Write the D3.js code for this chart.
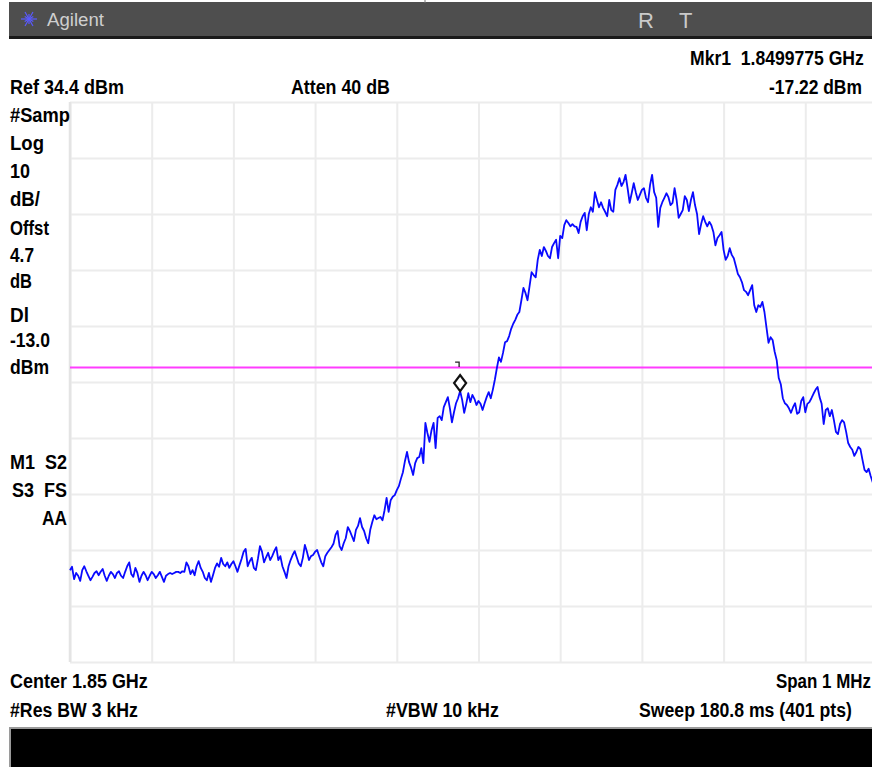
<!DOCTYPE html>
<html>
<head>
<meta charset="utf-8">
<script src="https://cdn.jsdelivr.net/npm/d3@7/dist/d3.min.js"></script>
<style>
  html, body { margin: 0; padding: 0; background: #ffffff; overflow: hidden; }
  svg { display: block; }
  .lbl { font-family: "Liberation Sans Narrow", "Arial Narrow", "Liberation Sans", Arial, sans-serif; font-weight: bold; fill: #000; white-space: pre; }
</style>
</head>
<body>
<svg id="chart" width="872" height="767"></svg>
<script>
// ---------------- data ----------------
const centerGHz = 1.85;
const spanMHz = 1;
const refLevel = 34.4;         // dBm, top of graticule
const dbPerDiv = 10;
const numDivX = 10;
const numDivY = 10;
const sweepPoints = 401;
const displayLine = -13.0;     // dBm
const markerFreqGHz = 1.8499775;
const markerLevel = -17.22;    // dBm

// trace amplitude, dBm (401 sweep points)
const traceDbm = [
  -49.2,-48.6,-50.8,-49.7,-50.2,-51.1,-49.2,-48.5,-49.4,-50.2,
  -51.0,-50.4,-49.7,-49.4,-50.1,-49.5,-49.0,-50.2,-51.1,-50.2,
  -49.5,-49.9,-50.6,-49.7,-49.4,-50.2,-50.6,-49.5,-48.5,-47.8,
  -49.9,-50.4,-48.8,-49.7,-51.3,-50.2,-49.5,-50.1,-51.0,-50.2,
  -49.5,-49.9,-50.6,-50.1,-49.5,-50.4,-51.3,-50.2,-49.9,-49.7,
  -49.9,-49.7,-49.5,-49.5,-49.7,-49.4,-49.5,-47.8,-48.5,-49.9,
  -49.2,-50.1,-48.5,-47.6,-48.8,-49.5,-50.6,-51.0,-49.7,-51.3,
  -50.1,-48.8,-48.0,-48.6,-47.0,-48.1,-48.5,-47.8,-48.8,-48.1,
  -47.6,-48.5,-49.5,-48.3,-47.2,-45.9,-45.4,-48.5,-47.6,-47.0,
  -48.8,-49.2,-47.2,-44.9,-45.9,-47.8,-46.9,-46.1,-47.4,-46.7,
  -45.8,-45.1,-47.4,-46.7,-48.5,-49.5,-50.6,-48.5,-47.4,-46.5,
  -45.8,-46.9,-48.0,-48.5,-47.0,-44.7,-45.9,-47.4,-46.7,-46.5,
  -45.9,-45.6,-46.7,-47.8,-48.5,-46.7,-46.1,-45.6,-45.1,-44.5,
  -42.9,-42.2,-44.9,-45.6,-44.4,-43.5,-41.5,-42.2,-43.1,-44.0,
  -42.0,-41.3,-39.9,-41.5,-42.2,-43.5,-44.4,-42.0,-40.6,-39.4,
  -40.1,-39.9,-39.7,-40.3,-38.5,-36.3,-38.8,-36.7,-36.1,-35.8,
  -34.9,-34.2,-32.9,-31.7,-29.7,-28.1,-29.9,-30.9,-32.2,-30.1,
  -29.2,-29.0,-27.4,-30.1,-22.9,-24.7,-26.3,-24.2,-22.9,-27.4,
  -22.0,-21.7,-22.4,-20.1,-19.2,-18.3,-20.3,-22.8,-21.0,-19.4,
  -18.5,-17.22,-18.8,-21.1,-19.5,-17.6,-19.2,-17.9,-18.6,-19.7,
  -19.0,-19.5,-20.6,-19.4,-18.3,-17.4,-18.5,-17.0,-15.2,-13.1,
  -11.2,-12.0,-10.4,-8.5,-8.3,-7.4,-6.1,-5.2,-4.5,-3.6,
  -3.1,-1.0,1.2,0.3,-1.0,1.5,4.0,3.5,3.1,6.2,
  8.0,6.9,8.5,7.8,6.9,6.5,8.5,9.2,9.8,6.5,
  10.5,10.1,12.4,13.3,12.8,12.2,12.6,12.2,12.1,11.0,
  13.0,14.0,14.6,11.5,14.4,15.6,14.8,18.3,16.9,15.6,
  16.5,15.5,14.8,14.0,16.9,15.1,14.8,18.7,19.6,20.8,
  19.4,20.1,21.4,19.0,16.4,18.1,19.9,18.3,16.9,17.8,
  18.7,19.0,17.3,16.5,19.6,21.4,18.3,17.3,12.1,15.5,
  16.5,17.3,18.1,17.4,16.0,16.4,19.0,16.9,13.7,14.4,
  15.1,17.6,16.9,14.9,16.9,18.3,16.0,14.4,10.8,12.6,
  14.0,13.0,12.2,13.0,12.4,11.2,8.8,10.1,10.6,11.2,
  8.0,6.2,6.9,8.3,7.1,6.5,5.1,3.7,3.1,2.2,
  0.8,0.5,-0.1,0.8,1.7,-1.9,-3.1,-1.9,-2.2,-1.3,
  -3.1,-5.9,-8.6,-7.6,-8.1,-10.2,-11.7,-14.9,-16.0,-18.5,
  -19.4,-19.7,-20.3,-21.1,-20.1,-19.4,-21.3,-21.0,-19.0,-18.3,
  -21.0,-19.5,-19.2,-18.5,-17.7,-17.0,-16.5,-18.3,-19.5,-23.1,
  -20.6,-20.3,-21.7,-20.6,-22.4,-24.5,-24.9,-23.1,-22.4,-22.8,
  -24.5,-26.5,-27.2,-27.7,-28.8,-28.1,-27.2,-27.6,-29.5,-31.3,
  -31.7,-31.1,-32.4,-33.5,-33.8,-34.9,-34.5,-35.6,-36.3,-35.9,
  -37.0
];

// text annotations
const headerTitle = "Agilent";
const headerFlags = ["R", "T"];
const markerText = "Mkr1  1.8499775 GHz";
const refText = "Ref 34.4 dBm";
const attenText = "Atten 40 dB";
const markerLevelText = "-17.22 dBm";
const sideLabels = ["#Samp", "Log", "10", "dB/", "Offst", "4.7", "dB", "Dl", "-13.0", "dBm"];
const statusLabels = ["M1  S2", "S3  FS", "AA"];
const centerText = "Center 1.85 GHz";
const spanText = "Span 1 MHz";
const rbwText = "#Res BW 3 kHz";
const vbwText = "#VBW 10 kHz";
const sweepText = "Sweep 180.8 ms (401 pts)";

// ---------------- drawing ----------------
const svg = d3.select("#chart");
const plot = { left: 70, top: 102, width: 817, height: 560 };

const fStart = centerGHz - spanMHz / 2000;
const fStop = centerGHz + spanMHz / 2000;
const x = d3.scaleLinear().domain([fStart, fStop]).range([plot.left, plot.left + plot.width]);
const y = d3.scaleLinear().domain([refLevel - dbPerDiv * numDivY, refLevel]).range([plot.top + plot.height, plot.top]);

const points = traceDbm.map((v, i) => ({ f: fStart + (fStop - fStart) * i / (sweepPoints - 1), v }));

// header bar
const header = svg.append("g");
header.append("rect").attr("x", 9).attr("y", 2).attr("width", 863).attr("height", 36).attr("fill", "#4e4e4e");
header.append("rect").attr("x", 9).attr("y", 36).attr("width", 863).attr("height", 3).attr("fill", "#1a1a1a");
header.append("line").attr("x1", 425).attr("x2", 425).attr("y1", 0).attr("y2", 3).attr("stroke", "#777").attr("stroke-width", 1);
// logo spark
const logo = header.append("g").attr("transform", "translate(29,19)");
d3.range(0, 12).forEach(k => {
  const a = k * Math.PI / 6;
  const r = (k % 2 === 0) ? 8 : 5;
  logo.append("line").attr("x1", 0).attr("y1", 0)
    .attr("x2", r * Math.cos(a)).attr("y2", r * Math.sin(a))
    .attr("stroke", "#5a5aff").attr("stroke-width", 1.2);
});

// grid
const grid = svg.append("g");
const xDivs = d3.range(0, numDivX + 1).map(k => fStart + (fStop - fStart) * k / numDivX);
const yDivs = d3.range(0, numDivY + 1).map(k => refLevel - k * dbPerDiv);
grid.append("g").attr("transform", `translate(0,${plot.top + plot.height})`)
  .call(d3.axisBottom(x).tickValues(xDivs).tickSize(-plot.height).tickFormat(""))
  .call(g => g.select(".domain").remove())
  .call(g => g.selectAll(".tick line").attr("stroke", "#ececec").attr("stroke-width", 2));
grid.append("g").attr("transform", `translate(${plot.left},0)`)
  .call(d3.axisLeft(y).tickValues(yDivs).tickSize(-plot.width).tickFormat(""))
  .call(g => g.select(".domain").remove())
  .call(g => g.selectAll(".tick line").attr("stroke", "#ececec").attr("stroke-width", 2));
grid.append("line").attr("x1", plot.left).attr("x2", plot.left)
  .attr("y1", plot.top).attr("y2", plot.top + plot.height)
  .attr("stroke", "#e4e4e4").attr("stroke-width", 2.5);

// display line
svg.append("line")
  .attr("x1", plot.left).attr("x2", plot.left + plot.width)
  .attr("y1", y(displayLine)).attr("y2", y(displayLine))
  .attr("stroke", "#ff3cff").attr("stroke-width", 2);

// trace
svg.append("path").datum(points)
  .attr("d", d3.line().x(d => x(d.f)).y(d => y(d.v)))
  .attr("fill", "none").attr("stroke", "#0a0aff").attr("stroke-width", 1.8)
  .attr("stroke-linejoin", "round");

// marker
const mx = x(markerFreqGHz), my = y(markerLevel);
svg.append("path")
  .attr("d", `M${mx},${my} L${mx - 6},${my - 8} L${mx},${my - 16} L${mx + 6},${my - 8} Z`)
  .attr("fill", "#fff").attr("stroke", "#111").attr("stroke-width", 2.2);
svg.append("path")
  .attr("d", `M${mx - 5},${my - 29} L${mx - 1},${my - 29} L${mx - 1},${my - 24}`)
  .attr("fill", "none").attr("stroke", "#222").attr("stroke-width", 1.3);

// text labels: drawn at natural width, then squeezed horizontally to a condensed look
function fitText(sel, x0, yc, w) {
  const natural = sel.node().getComputedTextLength();
  const k = Math.min(1, w / natural);
  sel.attr("transform", `translate(${x0},${yc}) scale(${k},1)`);
}
function lbl(t, x0, yc, w, size) {
  const s = svg.append("text").attr("class", "lbl").attr("x", 0).attr("y", 0)
    .attr("dominant-baseline", "central").attr("font-size", size || 20.5).text(t);
  fitText(s, x0, yc, w);
}

const ht = header.append("text").attr("x", 0).attr("y", 0).text(headerTitle)
  .attr("font-family", "Liberation Sans, Arial, sans-serif").attr("font-size", 19)
  .attr("dominant-baseline", "central").attr("fill", "#cfcfcf");
fitText(ht, 47, 19, 57);
headerFlags.forEach((t, k) => {
  header.append("text").attr("x", 638 + k * 41).attr("y", 28).text(t)
    .attr("font-family", "Liberation Sans, Arial, sans-serif").attr("font-size", 22)
    .attr("fill", "#cacaca");
});

lbl(markerText, 690, 58, 174);
lbl(refText, 10, 87, 114);
lbl(attenText, 291, 87, 99);
lbl(markerLevelText, 769, 87, 93);

const sideY = [115, 143, 171, 199, 228, 255, 281, 315, 340, 367];
const sideW = [60, 34, 20, 30, 39, 24, 22, 19, 40, 39];
sideLabels.forEach((t, k) => lbl(t, 10, sideY[k], sideW[k]));
lbl(statusLabels[0], 10, 462, 57);
lbl(statusLabels[1], 12, 490, 55);
lbl(statusLabels[2], 42, 518, 25);

lbl(centerText, 10, 681, 138);
lbl(spanText, 776, 681, 95);
lbl(rbwText, 10, 710, 128);
lbl(vbwText, 386, 710, 113);
lbl(sweepText, 639, 710, 213);

// bottom status bar
svg.append("rect").attr("x", 9).attr("y", 727).attr("width", 863).attr("height", 40).attr("fill", "#9a9a9a");
svg.append("rect").attr("x", 11).attr("y", 729).attr("width", 861).attr("height", 38).attr("fill", "#000");
</script>
</body>
</html>
